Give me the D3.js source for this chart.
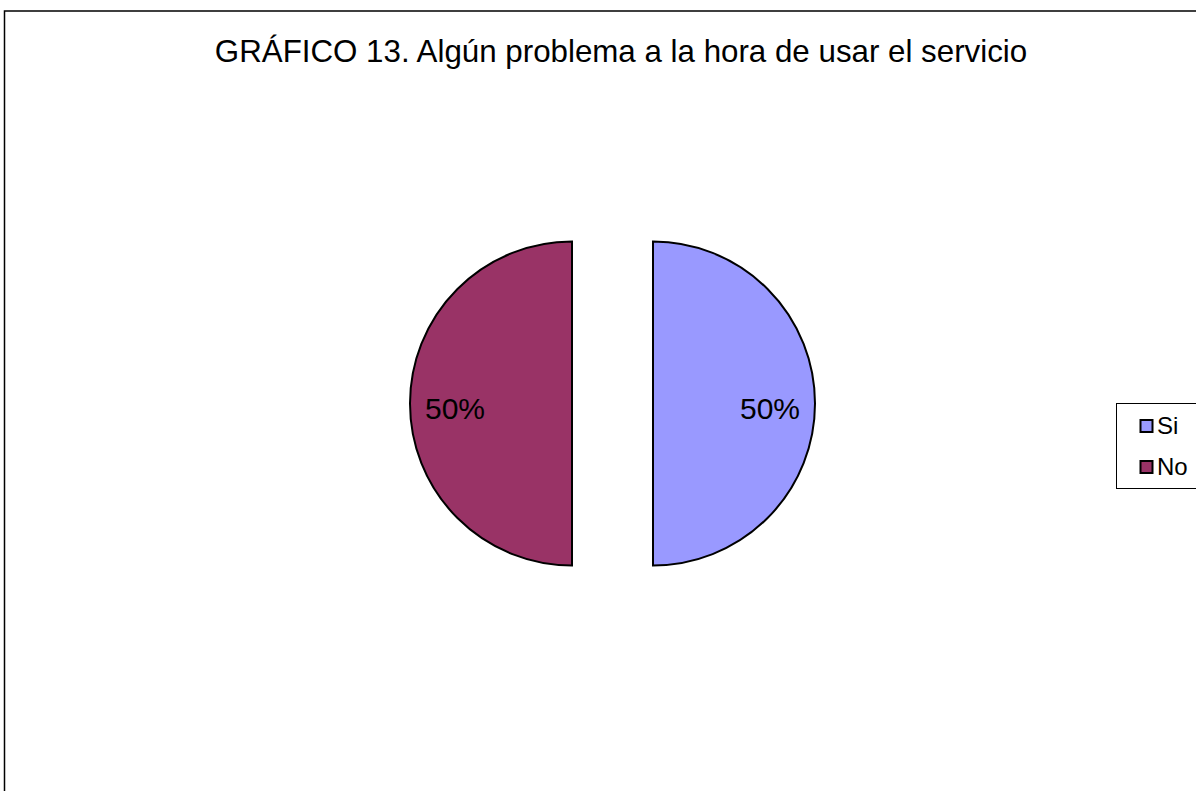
<!DOCTYPE html>
<html><head><meta charset="utf-8">
<script src="https://cdn.jsdelivr.net/npm/d3@7"></script>
<style>body{margin:0;background:#fff}svg{display:block}</style>
</head><body>
<script>
const title = "GRÁFICO 13. Algún problema a la hora de usar el servicio";
const categories = ["Si", "No"];
const values = [50, 50];
const colors = ["#9999FF", "#993366"];

const W = 1196, H = 791;
const svg = d3.select("body").append("svg").attr("width", W).attr("height", H);
const font = "Liberation Sans, Arial, sans-serif";

svg.append("rect").attr("x", 4.5).attr("y", 11).attr("width", 1300).attr("height", 1000)
  .attr("fill", "#fff").attr("stroke", "#000").attr("stroke-width", 1.5);

svg.append("text").attr("x", 621).attr("y", 62).attr("text-anchor", "middle")
  .attr("font-family", font).attr("font-size", 31.3).attr("fill", "#000").text(title);

const cx = 612.5, cy = 403.5, r = 162, off = 40.5;
const pie = d3.pie().sort(null).value(d => d);
const arcs = pie(values);
const arc = d3.arc().innerRadius(0).outerRadius(r);
const total = d3.sum(values);
const g = svg.append("g").attr("transform", `translate(${cx},${cy})`);
arcs.forEach((a, i) => {
  const mid = (a.startAngle + a.endAngle) / 2;
  const dx = Math.sin(mid) * off, dy = -Math.cos(mid) * off;
  const sg = g.append("g").attr("transform", `translate(${dx},${dy})`);
  sg.append("path").attr("d", arc(a)).attr("fill", colors[i])
    .attr("stroke", "#000").attr("stroke-width", 2).attr("stroke-linejoin", "miter");
  const lr = 117;
  sg.append("text").attr("x", Math.sin(mid) * lr).attr("y", -Math.cos(mid) * lr + 15)
    .attr("text-anchor", "middle").attr("font-family", font).attr("font-size", 30)
    .attr("fill", "#000").text(d3.format(".0%")(a.data / total));
});

const lg = svg.append("g");
lg.append("rect").attr("x", 1116.5).attr("y", 403.5).attr("width", 100).attr("height", 85)
  .attr("fill", "#fff").attr("stroke", "#000").attr("stroke-width", 1);
categories.forEach((c, i) => {
  const y = 420 + i * 41;
  lg.append("rect").attr("x", 1140.5).attr("y", y).attr("width", 12).attr("height", 12)
    .attr("fill", colors[i]).attr("stroke", "#000").attr("stroke-width", 2);
  lg.append("text").attr("x", 1157).attr("y", y + 13.5).attr("font-family", font)
    .attr("font-size", 24).attr("fill", "#000").text(c);
});
</script>
</body></html>
